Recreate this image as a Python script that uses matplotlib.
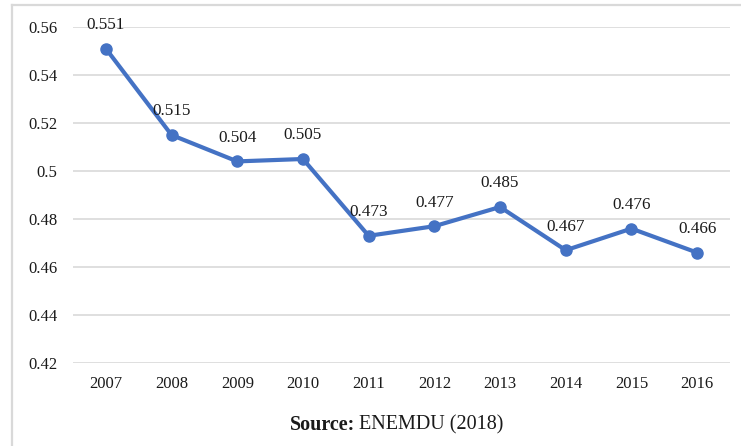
import matplotlib.pyplot as plt
from matplotlib.lines import Line2D

# datos
anios = ['2007', '2008', '2009', '2010', '2011', '2012', '2013', '2014', '2015', '2016']
gini = [0.551, 0.515, 0.504, 0.505, 0.473, 0.477, 0.485, 0.467, 0.476, 0.466]
yticks = [0.42, 0.44, 0.46, 0.48, 0.5, 0.52, 0.54, 0.56]

plt.rcParams['font.family'] = ['Liberation Serif', 'DejaVu Serif']

W, H = 741, 446
fig = plt.figure(figsize=(W / 100, H / 100), dpi=100)
ax = fig.add_axes([73 / W, 1 - 363 / H, (730 - 73) / W, (363 - 27) / H])

x = list(range(len(anios)))
ax.plot(x, gini, color='#4472C4', linewidth=3, marker='o', markersize=8,
        solid_capstyle='round', zorder=3)
for xi, v in zip(x, gini):
    ax.annotate(f'{v:.3f}', (xi, v), xytext=(0, 17), textcoords='offset points',
                ha='center', va='center', fontsize=12.3, color='#1a1a1a')

ax.set_xlim(-0.5, len(anios) - 0.5)
ax.set_ylim(0.42, 0.56)
ax.set_xticks(x)
ax.set_xticklabels(anios, fontsize=12, color='#1a1a1a')
ax.set_yticks(yticks)
ax.set_yticklabels([f'{v:g}' for v in yticks], fontsize=12, color='#1a1a1a')
ax.tick_params(length=0)
ax.tick_params(axis='y', pad=11)
ax.tick_params(axis='x', pad=9)
ax.grid(axis='y', color='#D9D9D9', linewidth=1.2)
ax.set_axisbelow(True)
for s in ax.spines.values():
    s.set_visible(False)

# marco del grafico
fig.add_artist(Line2D([12 / W, 1], [1 - 5 / H, 1 - 5 / H], color='#D9D9D9', linewidth=1.6))
fig.add_artist(Line2D([12 / W, 12 / W], [0, 1 - 5 / H], color='#D9D9D9', linewidth=1.6))

# fuente
fig.text(355 / W, 1 - 425 / H, 'Source:', ha='right', va='center',
         fontsize=14.5, fontweight='bold', color='#1a1a1a')
fig.text(359 / W, 1 - 425 / H, 'ENEMDU (2018)', ha='left', va='center',
         fontsize=14.5, color='#1a1a1a')

fig.savefig('out.png', dpi=100)
